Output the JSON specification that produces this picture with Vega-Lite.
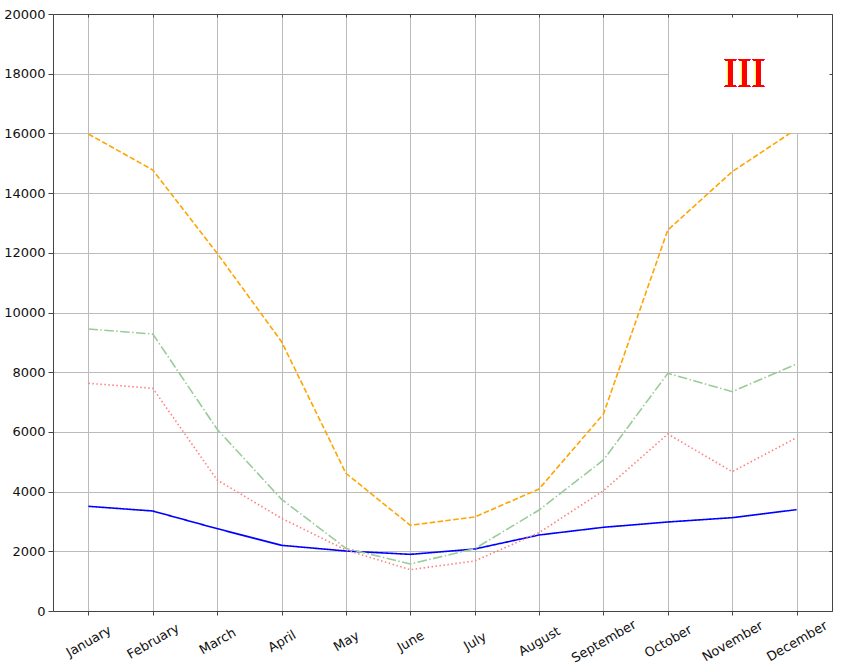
{
  "$schema": "https://vega.github.io/schema/vega-lite/v6.json",
  "width": 779,
  "height": 597,
  "autosize": {"type": "none"},
  "padding": {"left": 53, "top": 14, "right": 13, "bottom": 53},
  "background": "white",
  "config": {
    "view": {"stroke": null},
    "axis": {
      "labelFont": "DejaVu Sans",
      "labelFontSize": 13,
      "labelColor": "#111",
      "domainColor": "#444",
      "domainWidth": 1,
      "tickColor": "#444",
      "tickWidth": 1,
      "gridColor": "#bbbbbb",
      "gridWidth": 1,
      "title": null
    }
  },
  "data": {
    "values": [
      {"month": "January", "m": 1, "series": "S1", "value": 3507},
      {"month": "February", "m": 2, "series": "S1", "value": 3350},
      {"month": "March", "m": 3, "series": "S1", "value": 2758},
      {"month": "April", "m": 4, "series": "S1", "value": 2200},
      {"month": "May", "m": 5, "series": "S1", "value": 2010},
      {"month": "June", "m": 6, "series": "S1", "value": 1898},
      {"month": "July", "m": 7, "series": "S1", "value": 2077},
      {"month": "August", "m": 8, "series": "S1", "value": 2546},
      {"month": "September", "m": 9, "series": "S1", "value": 2804},
      {"month": "October", "m": 10, "series": "S1", "value": 2982},
      {"month": "November", "m": 11, "series": "S1", "value": 3127},
      {"month": "December", "m": 12, "series": "S1", "value": 3395},
      {"month": "January", "m": 1, "series": "S2", "value": 15980},
      {"month": "February", "m": 2, "series": "S2", "value": 14774},
      {"month": "March", "m": 3, "series": "S2", "value": 11983},
      {"month": "April", "m": 4, "series": "S2", "value": 9022},
      {"month": "May", "m": 5, "series": "S2", "value": 4613},
      {"month": "June", "m": 6, "series": "S2", "value": 2871},
      {"month": "July", "m": 7, "series": "S2", "value": 3149},
      {"month": "August", "m": 8, "series": "S2", "value": 4087},
      {"month": "September", "m": 9, "series": "S2", "value": 6600},
      {"month": "October", "m": 10, "series": "S2", "value": 12764},
      {"month": "November", "m": 11, "series": "S2", "value": 14718},
      {"month": "December", "m": 12, "series": "S2", "value": 16150},
      {"month": "January", "m": 1, "series": "S3", "value": 9447},
      {"month": "February", "m": 2, "series": "S3", "value": 9280},
      {"month": "March", "m": 3, "series": "S3", "value": 6087},
      {"month": "April", "m": 4, "series": "S3", "value": 3742},
      {"month": "May", "m": 5, "series": "S3", "value": 2100},
      {"month": "June", "m": 6, "series": "S3", "value": 1575},
      {"month": "July", "m": 7, "series": "S3", "value": 2087},
      {"month": "August", "m": 8, "series": "S3", "value": 3383},
      {"month": "September", "m": 9, "series": "S3", "value": 5059},
      {"month": "October", "m": 10, "series": "S3", "value": 7963},
      {"month": "November", "m": 11, "series": "S3", "value": 7347},
      {"month": "December", "m": 12, "series": "S3", "value": 8275},
      {"month": "January", "m": 1, "series": "S4", "value": 7628},
      {"month": "February", "m": 2, "series": "S4", "value": 7460},
      {"month": "March", "m": 3, "series": "S4", "value": 4389},
      {"month": "April", "m": 4, "series": "S4", "value": 3105},
      {"month": "May", "m": 5, "series": "S4", "value": 2043},
      {"month": "June", "m": 6, "series": "S4", "value": 1385},
      {"month": "July", "m": 7, "series": "S4", "value": 1675},
      {"month": "August", "m": 8, "series": "S4", "value": 2624},
      {"month": "September", "m": 9, "series": "S4", "value": 4031},
      {"month": "October", "m": 10, "series": "S4", "value": 5930},
      {"month": "November", "m": 11, "series": "S4", "value": 4667},
      {"month": "December", "m": 12, "series": "S4", "value": 5807}
    ]
  },
  "layer": [
    {
      "mark": {"type": "line", "strokeWidth": 1.6, "strokeCap": "butt"},
      "encoding": {
        "x": {
          "field": "m",
          "type": "quantitative",
          "scale": {"domain": [0.45, 12.55], "nice": false, "zero": false},
          "axis": {
            "orient": "bottom",
            "grid": true,
            "values": [1, 2, 3, 4, 5, 6, 7, 8, 9, 10, 11, 12],
            "labelExpr": "['January','February','March','April','May','June','July','August','September','October','November','December'][datum.value - 1]",
            "labelAngle": -30,
            "labelAlign": "center",
            "labelBaseline": "middle",
            "tickSize": 4,
            "labelPadding": 26,
            "labelOverlap": false,
            "labelBound": false,
            "labelFlush": false
          }
        },
        "y": {
          "field": "value",
          "type": "quantitative",
          "scale": {"domain": [0, 20000], "nice": false},
          "axis": {
            "orient": "left",
            "grid": true,
            "values": [0, 2000, 4000, 6000, 8000, 10000, 12000, 14000, 16000, 18000, 20000],
            "format": "d",
            "tickSize": 5,
            "labelPadding": 3,
            "labelOverlap": false,
            "labelFlush": false
          }
        },
        "detail": {"field": "series"},
        "color": {
          "field": "series",
          "type": "nominal",
          "scale": {"domain": ["S1", "S2", "S3", "S4"], "range": ["#0000ff", "#ffa500", "#99cc99", "#ff8080"]},
          "legend": null
        },
        "strokeDash": {
          "field": "series",
          "type": "nominal",
          "scale": {"domain": ["S1", "S2", "S3", "S4"], "range": [[1, 0], [5.5, 2.4], [9.6, 2.4, 1.5, 2.4], [1.5, 2.5]]},
          "legend": null
        }
      }
    },
    {
      "mark": {"type": "rect", "fill": "white", "stroke": null},
      "encoding": {
        "x": {
          "datum": 10.02,
          "type": "quantitative",
          "axis": {
            "orient": "top",
            "grid": false,
            "labels": false,
            "values": [1, 2, 3, 4, 5, 6, 7, 8, 9, 10, 11, 12],
            "tickSize": -3,
            "zindex": 1
          }
        },
        "x2": {"datum": 12.55},
        "y": {
          "datum": 16040,
          "type": "quantitative",
          "axis": {
            "orient": "right",
            "grid": false,
            "labels": false,
            "values": [0, 2000, 4000, 6000, 8000, 10000, 12000, 14000, 16000, 18000, 20000],
            "tickSize": -3,
            "zindex": 1
          }
        },
        "y2": {"datum": 20000}
      }
    },
    {
      "mark": {
        "type": "text",
        "text": "III",
        "font": "Liberation Serif",
        "fontSize": 42,
        "color": "#ff0000",
        "align": "center",
        "baseline": "alphabetic"
      },
      "encoding": {
        "x": {"datum": 11.19, "type": "quantitative", "axis": null},
        "y": {"datum": 17540, "type": "quantitative", "axis": null}
      }
    }
  ]
}
